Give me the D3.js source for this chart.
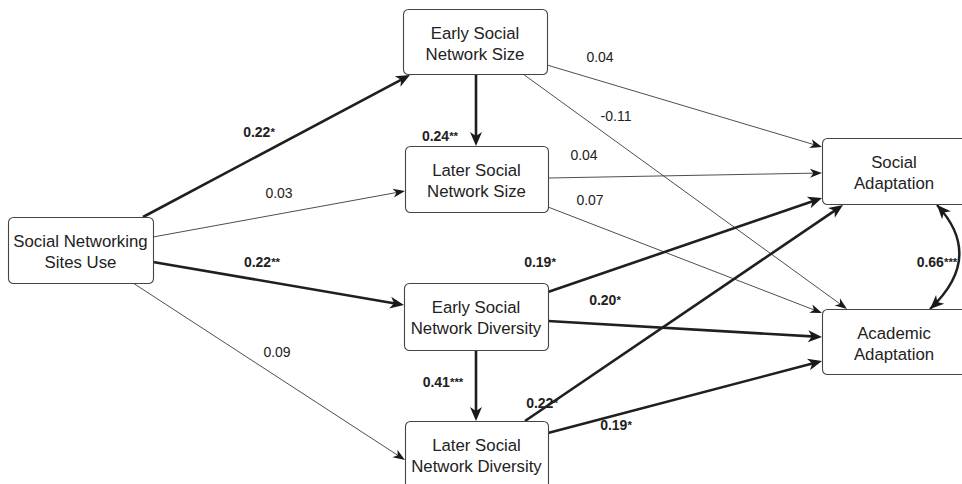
<!DOCTYPE html>
<html>
<head>
<meta charset="utf-8">
<script src="https://cdn.jsdelivr.net/npm/d3@7"></script>
<style>
  html, body { margin: 0; padding: 0; background: #fff; }
  svg { display: block; font-family: "Liberation Sans", Arial, sans-serif; }
</style>
</head>
<body>
<svg id="chart" width="962" height="484"></svg>
<script>
// ---------------- DATA ----------------
const nodeIds = ["snsu", "esns", "lsns", "esnd", "lsnd", "sa", "aa"];
const nodeLabels = [
  ["Social Networking", "Sites Use"],
  ["Early Social", "Network Size"],
  ["Later Social", "Network Size"],
  ["Early Social", "Network Diversity"],
  ["Later Social", "Network Diversity"],
  ["Social", "Adaptation"],
  ["Academic", "Adaptation"]
];
const pathFrom = ["snsu", "snsu", "snsu", "snsu", "esns", "esns", "esns", "lsns", "lsns", "esnd", "esnd", "esnd", "lsnd", "lsnd"];
const pathTo   = ["esns", "lsns", "esnd", "lsnd", "lsns", "sa",   "aa",   "sa",   "aa",   "sa",   "aa",   "lsnd", "sa",   "aa"];
const pathCoef = [0.22, 0.03, 0.22, 0.09, 0.24, 0.04, -0.11, 0.04, 0.07, 0.19, 0.20, 0.41, 0.22, 0.19];
const pathSig  = ["*", "", "**", "", "**", "", "", "", "", "*", "*", "***", "*", "*"];
const covPair = ["sa", "aa"];
const covCoef = 0.66;
const covSig = "***";

// ---------------- LAYOUT ----------------
const boxLayout = {
  snsu: [8, 217, 145, 66],
  esns: [403, 9, 144, 65],
  lsns: [405, 146, 143, 66],
  esnd: [404, 283, 144, 67],
  lsnd: [405, 421, 143, 70],
  sa:   [822, 138, 155, 66],
  aa:   [822, 309, 155, 65]
};
// endpoints [x1,y1,x2,y2] and label centre [lx,ly], per path (same order)
const pathGeom = [
  [143, 217, 410, 75,   259, 132],
  [153, 237, 405, 191,  279, 193],
  [153, 262, 404, 305,  262, 262],
  [133, 283, 405, 460,  277, 352],
  [476, 74,  476, 146,  440, 136],
  [547, 65,  822, 147,  600, 57],
  [523, 74,  847, 309,  616, 116],
  [548, 178, 822, 173,  584, 155],
  [548, 207, 822, 313,  590, 200],
  [548, 292, 822, 198,  540, 262],
  [548, 321, 822, 337,  605, 300],
  [476, 350, 476, 421,  443, 382],
  [525, 421, 843, 205,  542, 403],
  [548, 433, 822, 361,  616, 425]
];
const covGeom = { start: [937, 205], ctrl: [985, 257], end: [930, 309], label: [937, 262] };

// ---------------- DRAW ----------------
const svg = d3.select("#chart");
const fmt = v => d3.format(".2f")(v).replace("\u2212", "-");

const defs = svg.append("defs");
function addMarker(id, len, half) {
  defs.append("marker")
    .attr("id", id)
    .attr("markerUnits", "userSpaceOnUse")
    .attr("viewBox", `${-len - 1} ${-half - 1} ${len + 2} ${2 * half + 2}`)
    .attr("markerWidth", len + 2)
    .attr("markerHeight", 2 * half + 2)
    .attr("refX", 0).attr("refY", 0)
    .attr("orient", "auto-start-reverse")
    .append("path")
    .attr("d", `M0,0 L${-len},${-half} L${-len * 0.72},0 L${-len},${half} Z`)
    .attr("fill", "#1a1a1a");
}
addMarker("arrThick", 14, 6);
addMarker("arrThin", 12, 4.5);

const paths = pathFrom.map((f, i) => ({
  from: f, to: pathTo[i], coef: pathCoef[i], sig: pathSig[i], g: pathGeom[i]
}));

const lineGen = d3.line();
const edgeG = svg.append("g");
paths.forEach(p => {
  const [x1, y1, x2, y2] = p.g;
  const sig = p.sig !== "";
  const dx = x2 - x1, dy = y2 - y1, L = Math.hypot(dx, dy);
  const cut = sig ? 6 : 4;
  const ex = x2 - dx / L * cut, ey = y2 - dy / L * cut;
  edgeG.append("path")
    .attr("d", lineGen([[x1, y1], [ex, ey]]))
    .attr("fill", "none")
    .attr("stroke", sig ? "#1f1f1f" : "#3a3a3a")
    .attr("stroke-width", sig ? 2.6 : 0.9);
  edgeG.append("path")
    .attr("d", lineGen([[ex, ey], [x2, y2]]))
    .attr("fill", "none").attr("stroke", "none")
    .attr("marker-end", `url(#${sig ? "arrThick" : "arrThin"})`);
});

// covariance curve
{
  const [sx, sy] = covGeom.start, [cx, cy] = covGeom.ctrl, [ex, ey] = covGeom.end;
  const path = d3.path();
  path.moveTo(sx, sy);
  path.quadraticCurveTo(cx, cy, ex, ey);
  edgeG.append("path")
    .attr("d", path.toString())
    .attr("fill", "none")
    .attr("stroke", "#1f1f1f")
    .attr("stroke-width", 2.4)
    .attr("marker-start", "url(#arrThick)")
    .attr("marker-end", "url(#arrThick)");
}

// boxes
const boxG = svg.append("g");
nodeIds.forEach((id, i) => {
  const [x, y, w, h] = boxLayout[id];
  boxG.append("rect")
    .attr("x", x + 0.5).attr("y", y + 0.5)
    .attr("width", w).attr("height", h)
    .attr("rx", 5).attr("ry", 5)
    .attr("fill", "#fff")
    .attr("stroke", "#444")
    .attr("stroke-width", 1.1);
  const lines = nodeLabels[i];
  const cx = x + Math.min(w, 962 - x) / 2 + (id === "sa" || id === "aa" ? 2 : 0);
  const cy = y + 33;
  const t = boxG.append("text")
    .attr("text-anchor", "middle")
    .attr("font-size", 16.8)
    .attr("fill", "#222");
  lines.forEach((ln, k) => {
    t.append("tspan")
      .attr("x", cx)
      .attr("y", cy + (k === 0 ? -3 : 18))
      .text(ln);
  });
});

// labels
const labG = svg.append("g");
paths.forEach(p => {
  const sig = p.sig !== "";
  const t = labG.append("text")
    .attr("x", p.g[4]).attr("y", p.g[5] + 5)
    .attr("text-anchor", "middle")
    .attr("font-size", 14)
    .attr("font-weight", sig ? "bold" : "normal")
    .attr("fill", "#222");
  t.append("tspan").text(fmt(p.coef));
  if (sig) t.append("tspan").attr("font-size", 11.5).attr("dy", -1).text(p.sig);
});
{
  const t = labG.append("text")
    .attr("x", covGeom.label[0]).attr("y", covGeom.label[1] + 5)
    .attr("text-anchor", "middle")
    .attr("font-size", 14)
    .attr("font-weight", "bold")
    .attr("fill", "#222");
  t.append("tspan").text(fmt(covCoef));
  t.append("tspan").attr("font-size", 11.5).attr("dy", -1).text(covSig);
}
</script>
</body>
</html>
